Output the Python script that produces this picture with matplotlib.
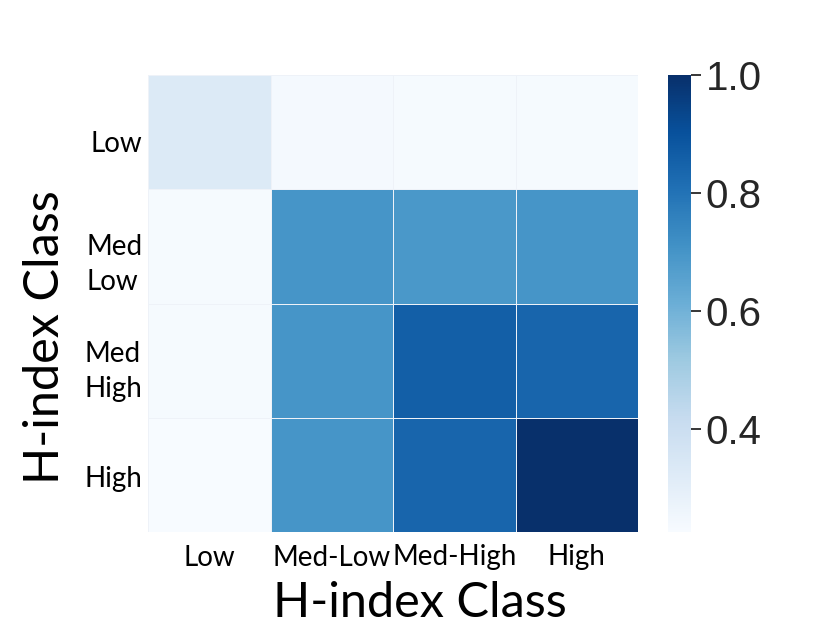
import matplotlib
matplotlib.use("Agg")
import matplotlib.pyplot as plt
import matplotlib.transforms as mtransforms
import numpy as np

classes_x = ["Low", "Med-Low", "Med-High", "High"]
classes_y = ["Low", "Med\nLow", "Med\nHigh", "High"]
row_low = [0.33, 0.24, 0.235, 0.235]
row_medlow = [0.235, 0.70, 0.69, 0.70]
row_medhigh = [0.235, 0.70, 0.86, 0.84]
row_high = [0.226, 0.70, 0.84, 1.0]
vmin, vmax = 0.226, 1.0
cbar_ticks = [0.4, 0.6, 0.8, 1.0]

data = np.array([row_low, row_medlow, row_medhigh, row_high])

fig = plt.figure(figsize=(8.3, 6.42), dpi=100)
W, H = 830, 642
ax = fig.add_axes([148 / W, 1 - 532 / H, 490 / W, 457 / H])
cax = fig.add_axes([668 / W, 1 - 532 / H, 23 / W, 457 / H])

mesh = ax.pcolormesh(data, cmap="Blues", vmin=vmin, vmax=vmax,
                     edgecolors="#eef2f8", linewidth=0.6)
ax.set_xlim(0, 4)
ax.set_ylim(4, 0)
for s in ax.spines.values():
    s.set_visible(False)

lab_font = "Lato"
ax.set_xticks(np.arange(4) + 0.5)
ax.set_xticklabels(classes_x, fontsize=20, family=lab_font)
ax.set_yticks(np.arange(4) + 0.5)
ax.set_yticklabels(classes_y, fontsize=20, family=lab_font,
                   multialignment="left", linespacing=1.45)
ax.tick_params(axis="x", length=0, pad=9)
ax.tick_params(axis="y", length=0, pad=4)
# small downward nudges of the y tick labels (points), as in the reference
nudges = [-6.5, -8, -2.5, -1]
for lbl, dy in zip(ax.get_yticklabels(), nudges):
    lbl.set_transform(lbl.get_transform() +
                      mtransforms.ScaledTranslation(0, dy / 72, fig.dpi_scale_trans))

ax.set_xlabel("H-index Class", fontsize=35, family=lab_font, labelpad=12)
ax.xaxis.set_label_coords(0.555, -0.108)
ax.set_ylabel("H-index Class", fontsize=35, family=lab_font)
ax.yaxis.set_label_coords(-0.165, 0.427)

cb = fig.colorbar(mesh, cax=cax)
cb.set_ticks(cbar_ticks)
cb.set_ticklabels([f"{t:.1f}" for t in cbar_ticks])
cb.outline.set_visible(False)
cax.tick_params(labelsize=29, length=7, width=1.3, color="#262626", labelcolor="#262626")
for t in cax.get_yticklabels():
    t.set_family("Liberation Sans")

fig.savefig("out.png", dpi=100)
